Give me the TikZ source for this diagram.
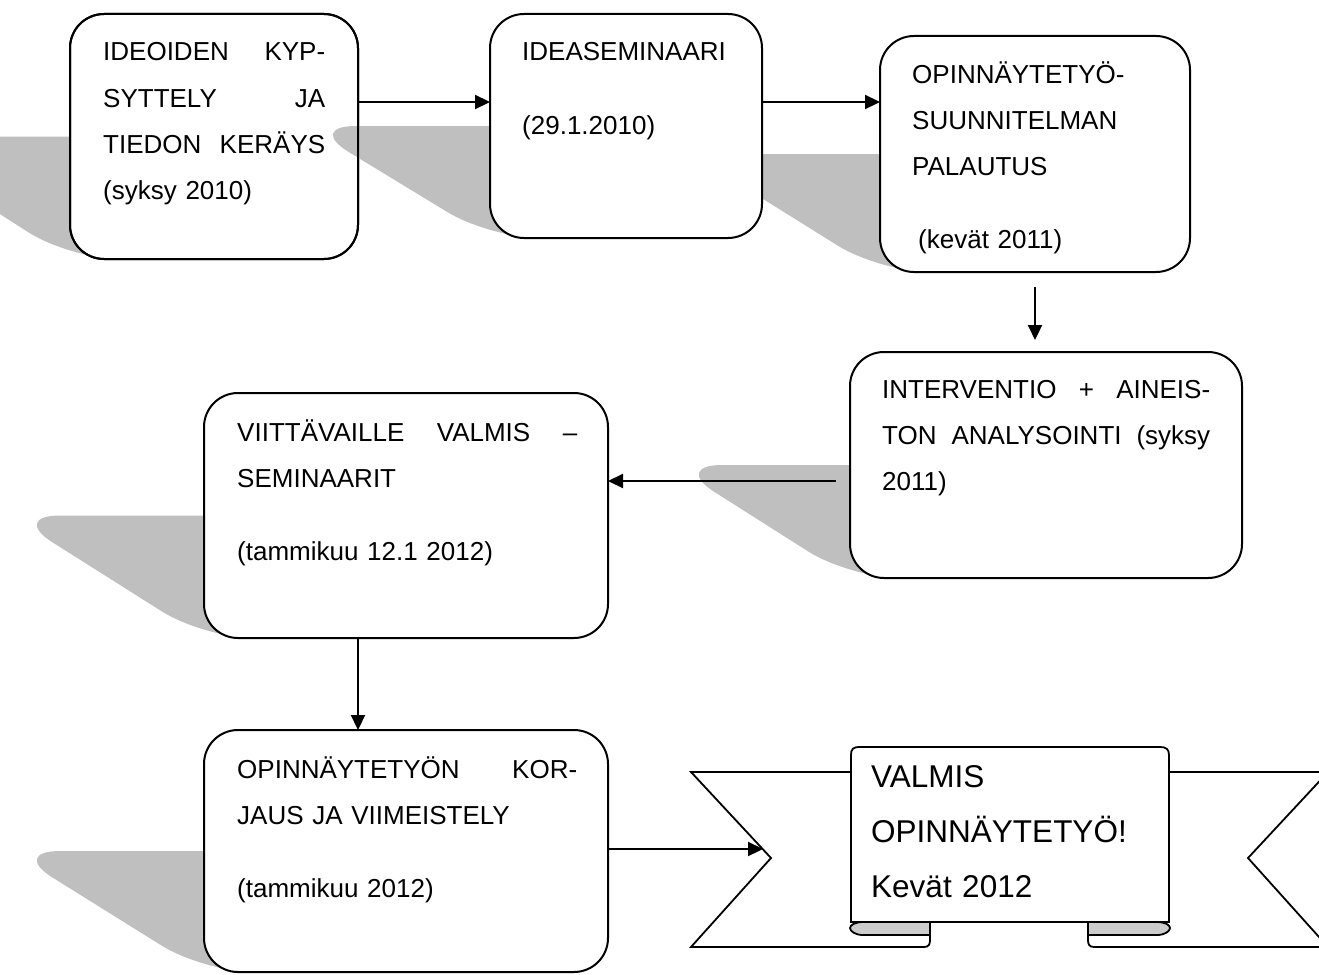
\documentclass[tikz,border=0pt]{standalone}
\usepackage{fontspec}
\setmainfont{Liberation Sans}
\usetikzlibrary{arrows.meta}

\begin{document}
\begin{tikzpicture}[
    x=1pt,y=-1pt,
    box/.style={draw=black, line width=2pt, fill=white, rounded corners=34pt, inner sep=0pt, outer sep=0pt},
    boxline/.style={draw=black, line width=2pt, rounded corners=34pt},
    txt/.style={anchor=base west, inner sep=0pt, text width=#1, align=left,
        font=\fontsize{26}{46.3}\selectfont},
    shade/.style={fill=gray!50, rounded corners=16pt},
    arr/.style={line width=2.2pt, -{Triangle[length=15pt,width=14pt]}},
    rib/.style={draw=black, line width=1.8pt, fill=white},
    fold/.style={draw=black, line width=1.8pt, fill=black!20}
    ]
    \useasboundingbox (0,0) rectangle (1319,974);
    \clip (0,0) rectangle (1319,974);

    % shadows and boxes
    \fill[shade] (-121,136.5) -- (167,136.5) -- (320,259) [rounded corners=50pt] -- (70,259) -- cycle;
    \node[box, minimum width=288pt, minimum height=245pt] (b1) at (214,136.5) {};
    \fill[shade] (306,126) -- (589,126) -- (725,238) [rounded corners=50pt] -- (490,238) -- cycle;
    \fill[shade] (691,154) -- (1001,154) -- (1150,272) [rounded corners=50pt] -- (880,272) -- cycle;
    \node[box, minimum width=272pt, minimum height=224pt] (b2) at (626,126) {};
    \draw[boxline] (b1.north west) rectangle (b1.south east);
    \node[box, minimum width=310pt, minimum height=236pt] (b3) at (1035,154) {};
    \fill[shade] (672,465) -- (1064,465) -- (1200,578) [rounded corners=50pt] -- (850,578) -- cycle;
    \node[box, minimum width=392pt, minimum height=226pt] (b4) at (1046,465) {};
    \fill[shade] (10,515.5) -- (416,515.5) -- (570,638) [rounded corners=50pt] -- (204,638) -- cycle;
    \node[box, minimum width=404pt, minimum height=245pt] (b5) at (406,515.5) {};
    \fill[shade] (10,851) -- (416,851) -- (570,972) [rounded corners=50pt] -- (204,972) -- cycle;
    \node[box, minimum width=404pt, minimum height=242pt] (b6) at (406,851) {};

    % texts
    \node[txt=222pt] (t1) at (103,61) {IDEOIDEN\hfill KYP-\\SYTTELY\hfill JA\\TIEDON\hfill KERÄYS\\(syksy 2010)};
    \node[txt=208pt] (t2) at (522,61) {IDEASEMINAARI\\[27pt](29.1.2010)};
    \node[txt=246pt] (t3) at (912,83) {OPINNÄYTETYÖ-\\SUUNNITELMAN\\PALAUTUS\\[27pt]\hspace*{6pt}(kevät 2011)};
    \node[txt=328pt] (t4) at (882,398) {INTERVENTIO\hfill +\hfill AINEIS-\\TON\hfill ANALYSOINTI\hfill (syksy\\2011)};
    \node[txt=340pt] (t5) at (237,441) {VIITTÄVAILLE\hfill VALMIS\hfill –\\SEMINAARIT\\[27pt](tammikuu 12.1 2012)};
    \node[txt=340pt] (t6) at (237,778) {OPINNÄYTETYÖN\hfill KOR-\\JAUS JA VIIMEISTELY\\[27pt](tammikuu 2012)};

    % ribbon
    \draw[rib] (851,772) -- (691,772) -- (771,858) -- (691,947) -- (924,947)
        .. controls (929,947) and (930,944) .. (930,940) -- (930,922);
    \draw[rib] (1169,772) -- (1328,772) -- (1248,858) -- (1328,947) -- (1094,947)
        .. controls (1089,947) and (1088,944) .. (1088,940) -- (1088,922);
    \draw[rib] (851,922) -- (851,755) .. controls (851,749) and (853,747) .. (860,747)
        -- (1160,747) .. controls (1166,747) and (1169,749) .. (1169,755) -- (1169,922) -- cycle;
    \draw[fold] (930,922) -- (863,922) .. controls (855,922) and (850,925) .. (850,928)
        .. controls (850,931) and (855,935) .. (863,935) -- (930,935) -- cycle;
    \draw[fold] (1088,922) -- (1157,922) .. controls (1165,922) and (1170,925) .. (1170,928)
        .. controls (1170,931) and (1165,935) .. (1157,935) -- (1088,935) -- cycle;
    \node[anchor=base west, inner sep=0pt, text width=290pt, align=left, font=\fontsize{31.5}{55}\selectfont]
        (goal) at (871,787) {VALMIS\\OPINNÄYTETYÖ!\\Kevät 2012};
    \coordinate (tipL) at (763,849);

    % arrows
    \coordinate (lvl1) at (0,102);
    \coordinate (lvl2) at (0,481);
    \coordinate (col) at (358,0);
    \draw[arr] (b1.east |- lvl1) -- (b2.west |- lvl1);
    \draw[arr] (b2.east |- lvl1) -- (b3.west |- lvl1);
    \draw[arr, shorten <=15pt, shorten >=12pt] (b3.south) -- (b3.south |- b4.north);
    \draw[arr, shorten <=14pt] (b4.west |- lvl2) -- (b5.east |- lvl2);
    \draw[arr] (b5.south -| col) -- (b6.north -| col);
    \draw[arr] (b6.east |- tipL) -- (tipL);
\end{tikzpicture}
\end{document}
